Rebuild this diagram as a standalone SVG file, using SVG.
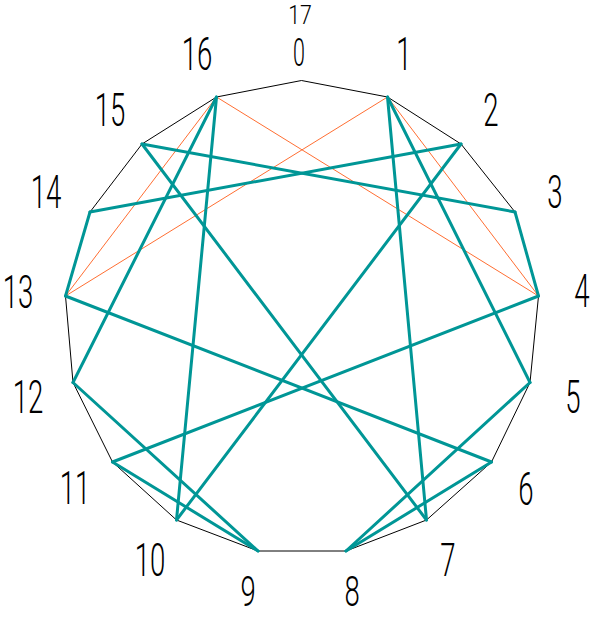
<svg xmlns="http://www.w3.org/2000/svg" width="600" height="618" viewBox="0 0 600 618">
<style>
.poly{fill:none;stroke:#000;stroke-width:1}
.t{stroke:#009696;stroke-width:3;stroke-linecap:round}
.o{stroke:#ff6e32;stroke-width:1}
.lbl{font-family:Roboto,"Liberation Sans",sans-serif;font-weight:300;font-size:46px;fill:#000;text-anchor:middle}
.sm{font-size:25px}
.md{font-size:39px}
.bt{font-size:43px}
</style>
<rect width="600" height="618" fill="#fff"/>
<g id="polygon">
<polygon class="poly" points="301.5,80.5 387.5,97 461,144 515,212 538.5,296 530,382.5 491.5,462 426.5,520 346,551 258,551 176.5,520 112.5,462 73,382.5 65.5,296 90,212 142,144 216.5,97"/>
</g>
<g id="connectors">
<line class="o" x1="216.5" y1="97" x2="538.5" y2="296"/>
<line class="o" x1="216.5" y1="97" x2="65.5" y2="296"/>
<line class="o" x1="387.5" y1="97" x2="65.5" y2="296"/>
<line class="o" x1="387.5" y1="97" x2="538.5" y2="296"/>
<line class="t" x1="216.5" y1="97" x2="73" y2="382.5"/>
<line class="t" x1="216.5" y1="97" x2="176.5" y2="520"/>
<line class="t" x1="142" y1="144" x2="515" y2="212"/>
<line class="t" x1="142" y1="144" x2="426.5" y2="520"/>
<line class="t" x1="90" y1="212" x2="461" y2="144"/>
<line class="t" x1="90" y1="212" x2="65.5" y2="296"/>
<line class="t" x1="65.5" y1="296" x2="491.5" y2="462"/>
<line class="t" x1="73" y1="382.5" x2="258" y2="551"/>
<line class="t" x1="112.5" y1="462" x2="538.5" y2="296"/>
<line class="t" x1="112.5" y1="462" x2="258" y2="551"/>
<line class="t" x1="176.5" y1="520" x2="461" y2="144"/>
<line class="t" x1="387.5" y1="97" x2="426.5" y2="520"/>
<line class="t" x1="387.5" y1="97" x2="530" y2="382.5"/>
<line class="t" x1="515" y1="212" x2="538.5" y2="296"/>
<line class="t" x1="530" y1="382.5" x2="346" y2="551"/>
<line class="t" x1="491.5" y1="462" x2="346" y2="551"/>
</g>
<g id="labels">
<g id="n0"><text class="lbl md" transform="translate(299,66) scale(0.55,1)">0</text><text class="lbl sm" transform="translate(300,24) scale(0.85,1)">17</text></g>
<g id="n1"><text class="lbl" transform="translate(404,70) scale(0.6,1)">1</text></g>
<g id="n2"><text class="lbl" transform="translate(491,126) scale(0.6,1)">2</text></g>
<g id="n3"><text class="lbl" transform="translate(555,208) scale(0.6,1)">3</text></g>
<g id="n4"><text class="lbl" transform="translate(582,307) scale(0.6,1)">4</text></g>
<g id="n5"><text class="lbl" transform="translate(573,413) scale(0.6,1)">5</text></g>
<g id="n6"><text class="lbl" transform="translate(526,505) scale(0.6,1)">6</text></g>
<g id="n7"><text class="lbl" transform="translate(448,576) scale(0.6,1)">7</text></g>
<g id="n8"><text class="lbl bt" transform="translate(352,606) scale(0.64,1)">8</text></g>
<g id="n9"><text class="lbl bt" transform="translate(248,606) scale(0.64,1)">9</text></g>
<g id="n10"><text class="lbl" transform="translate(150,576) scale(0.6,1)">10</text></g>
<g id="n11"><text class="lbl" transform="translate(75,504) scale(0.6,1)">11</text></g>
<g id="n12"><text class="lbl" transform="translate(28,413) scale(0.6,1)">12</text></g>
<g id="n13"><text class="lbl" transform="translate(18,308) scale(0.6,1)">13</text></g>
<g id="n14"><text class="lbl" transform="translate(46,208) scale(0.6,1)">14</text></g>
<g id="n15"><text class="lbl" transform="translate(110,126) scale(0.6,1)">15</text></g>
<g id="n16"><text class="lbl" transform="translate(197,70) scale(0.6,1)">16</text></g>
</g>
</svg>
